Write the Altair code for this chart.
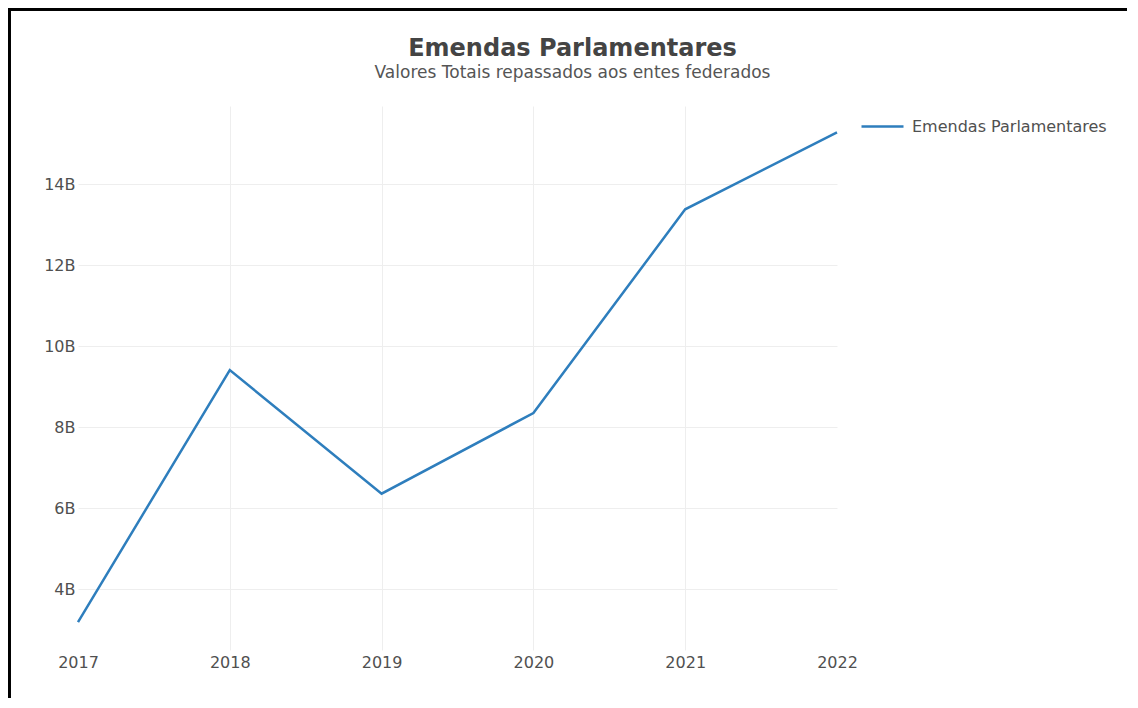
import altair as alt
import pandas as pd

anos = [2017, 2018, 2019, 2020, 2021, 2022]
valores_bi = [3.19, 9.41, 6.36, 8.35, 13.38, 15.28]
serie = ["Emendas Parlamentares"] * len(anos)
y_ticks = [4, 6, 8, 10, 12, 14]

df = pd.DataFrame({"ano": anos, "valor": valores_bi, "serie": serie})

FONT = "DejaVu Sans"
TXT = "#505050"

line = alt.Chart(df).mark_line(strokeWidth=2.5, clip=False).encode(
    x=alt.X(
        "ano:Q",
        scale=alt.Scale(domain=[2017, 2022], nice=False, zero=False),
        axis=alt.Axis(
            values=anos, format="d", title=None, domain=False, ticks=False,
            labelPadding=4, labelFontSize=16, labelColor=TXT, labelFont=FONT,
            gridColor=alt.condition("datum.value == 2017 || datum.value == 2022",
                                    alt.value("transparent"), alt.value("#eeeeee")),
            labelFlush=False,
        ),
    ),
    y=alt.Y(
        "valor:Q",
        scale=alt.Scale(domain=[2.5, 15.93], nice=False, zero=False),
        axis=alt.Axis(
            values=y_ticks, labelExpr="datum.value + 'B'", title=None,
            domain=False, ticks=False, labelPadding=3, labelFontSize=16,
            labelColor=TXT, labelFont=FONT, gridColor="#eeeeee",
        ),
    ),
    color=alt.Color(
        "serie:N",
        scale=alt.Scale(range=["#2e7ebd"]),
        legend=alt.Legend(
            title=None, orient="none", legendX=782, legendY=-2,
            symbolType="stroke", symbolSize=1764, symbolStrokeWidth=2.5,
            labelFontSize=16, labelColor=TXT, labelFont=FONT, labelOffset=7,
            labelLimit=400,
        ),
    ),
)

frame_left = alt.Chart(df).mark_rule(color="black", strokeWidth=3, clip=False).encode(
    x=alt.value(-69), y=alt.value(-98), y2=alt.value(620)
)
frame_top = alt.Chart(df).mark_rule(color="black", strokeWidth=3, clip=False).encode(
    x=alt.value(-70), x2=alt.value(1070), y=alt.value(-97)
)

chart = alt.layer(line, frame_left, frame_top).properties(
    width=759,
    height=544,
    background="white",
    title=alt.TitleParams(
        text="Emendas Parlamentares",
        subtitle="Valores Totais repassados aos entes federados",
        anchor="middle", frame="group", dx=115, offset=-74,
        font=FONT, fontSize=24, fontWeight="bold", color="#444444",
        subtitleFont=FONT, subtitleFontSize=17, subtitleColor="#555555",
        subtitlePadding=4,
    ),
    autosize=alt.AutoSizeParams(type="none"),
    padding={"left": 70, "top": 98, "right": 290, "bottom": 48},
).configure_view(strokeWidth=0, stroke="transparent")

chart.save("out.html", embed_options={"renderer": "svg", "actions": False})
